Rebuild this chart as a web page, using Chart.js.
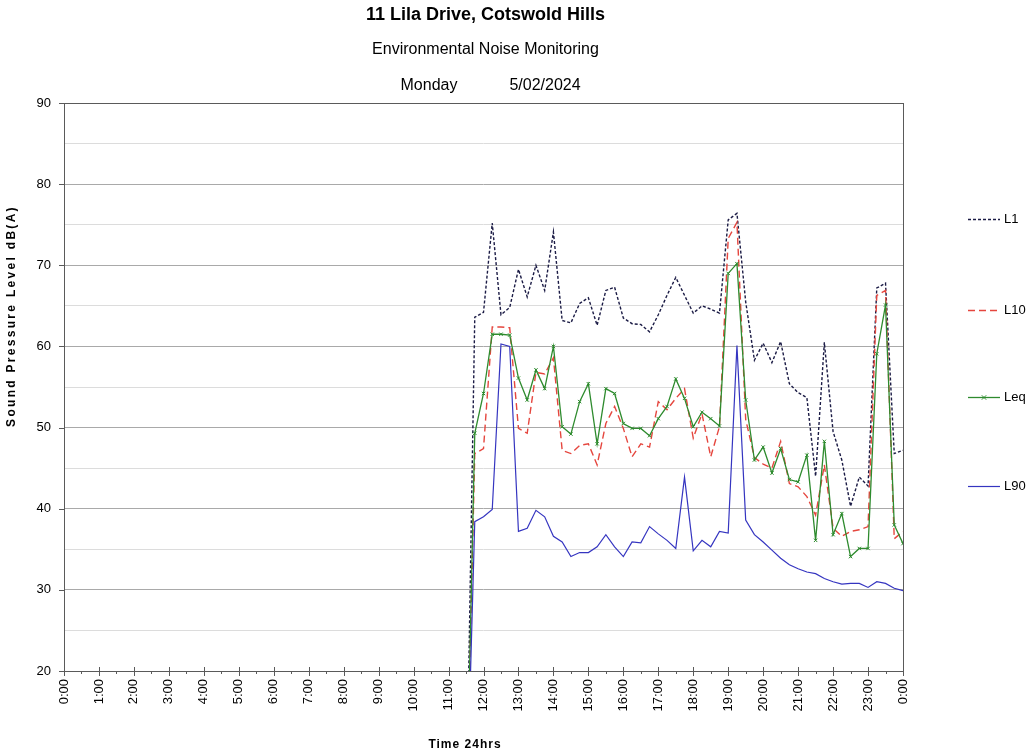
<!DOCTYPE html>
<html>
<head>
<meta charset="utf-8">
<title>11 Lila Drive, Cotswold Hills</title>
<script src="https://cdn.jsdelivr.net/npm/chart.js@4.4.1/dist/chart.umd.min.js"></script>
<style>
  html, body { margin: 0; padding: 0; background: #ffffff; }
  #wrap { width: 1029px; height: 754px; }
</style>
</head>
<body>
<div id="wrap"><canvas id="noise" width="1029" height="754"></canvas></div>
<script>
// 15-minute logger records (the 11:30 record precedes the start of monitoring)
const times = [
  '11:30', '11:45', '12:00', '12:15', '12:30', '12:45', '13:00', '13:15', '13:30', '13:45',
  '14:00', '14:15', '14:30', '14:45', '15:00', '15:15', '15:30', '15:45', '16:00', '16:15',
  '16:30', '16:45', '17:00', '17:15', '17:30', '17:45', '18:00', '18:15', '18:30', '18:45',
  '19:00', '19:15', '19:30', '19:45', '20:00', '20:15', '20:30', '20:45', '21:00', '21:15',
  '21:30', '21:45', '22:00', '22:15', '22:30', '22:45', '23:00', '23:15', '23:30', '23:45',
  '24:00'
];

const L1 = [
  0, 63.6, 64.2, 75.2, 63.9, 64.8, 69.5, 66.1, 70.0, 66.9,
  74.1, 63.2, 62.9, 65.3, 66.0, 62.6, 66.9, 67.3, 63.5, 62.8,
  62.7, 61.8, 63.9, 66.3, 68.5, 66.3, 64.1, 65.0, 64.6, 64.1,
  75.6, 76.4, 65.5, 58.3, 60.4, 58.0, 60.6, 55.4, 54.3, 53.7,
  44.0, 60.5, 49.5, 46.0, 40.3, 43.9, 42.8, 67.2, 67.8, 46.8,
  47.2
];

const L10 = [
  0, 46.8, 47.4, 62.4, 62.4, 62.3, 49.9, 49.3, 56.8, 56.6,
  58.6, 47.2, 46.8, 47.8, 48.0, 45.4, 50.5, 52.6, 49.9, 46.4,
  48.0, 47.6, 53.2, 52.2, 53.6, 54.8, 48.7, 51.7, 46.4, 50.1,
  73.3, 75.3, 51.0, 46.3, 45.5, 45.0, 48.3, 43.1, 42.7, 41.5,
  39.2, 45.4, 37.6, 36.6, 37.2, 37.4, 37.8, 66.3, 66.9, 36.3,
  37.2
];

const Leq = [
  0, 49.3, 54.2, 61.5, 61.5, 61.4, 56.1, 53.4, 57.1, 54.8,
  60.0, 50.1, 49.2, 53.2, 55.4, 48.0, 54.8, 54.2, 50.5, 49.9,
  49.9, 49.0, 51.1, 52.6, 56.0, 53.6, 50.1, 51.9, 51.1, 50.2,
  69.0, 70.2, 53.4, 46.0, 47.6, 44.4, 47.4, 43.6, 43.3, 46.6,
  36.1, 48.3, 36.8, 39.4, 34.1, 35.1, 35.1, 59.1, 65.1, 38.0,
  35.7
];

const L90 = [
  0, 38.4, 39.0, 39.9, 60.3, 60.0, 37.2, 37.6, 39.8, 39.0,
  36.6, 35.9, 34.1, 34.6, 34.6, 35.3, 36.8, 35.3, 34.1, 35.9,
  35.8, 37.8, 36.9, 36.1, 35.1, 43.9, 34.8, 36.1, 35.3, 37.2,
  37.0, 60.1, 38.6, 36.8, 35.9, 34.9, 33.9, 33.1, 32.6, 32.2,
  32.0, 31.4, 31.0, 30.7, 30.8, 30.8, 30.3, 31.0, 30.8, 30.2,
  29.9
];

// hour labels for the 24 h time axis
const hourLabels = [
  '0:00', '1:00', '2:00', '3:00', '4:00', '5:00', '6:00', '7:00', '8:00', '9:00',
  '10:00', '11:00', '12:00', '13:00', '14:00', '15:00', '16:00', '17:00', '18:00',
  '19:00', '20:00', '21:00', '22:00', '23:00', '0:00'
];

const yTicks = [20, 30, 40, 50, 60, 70, 80, 90];

const titleText = '11 Lila Drive, Cotswold Hills';
const subtitleText = 'Environmental Noise Monitoring';
const dayText = 'Monday';
const dateText = '5/02/2024';
const yTitle = 'Sound Pressure Level dB(A)';
const xTitle = 'Time 24hrs';

const FONT = "'Liberation Sans', Arial, Helvetica, sans-serif";

function toHours(t) {
  const [h, m] = t.split(':').map(Number);
  return h + m / 60;
}
function series(values) {
  return times.map((t, i) => ({ x: toHours(t), y: values[i] }));
}

// plot frame, axis tick marks, headings, axis titles and legend
const decorations = {
  id: 'decorations',
  beforeDatasetsDraw(chart) {
    const { ctx, chartArea: a, scales: { x, y } } = chart;
    ctx.save();
    ctx.strokeStyle = '#5a5a5a';
    ctx.lineWidth = 1;
    ctx.strokeRect(Math.round(a.left) + 0.5, Math.round(a.top) + 0.5,
                   Math.round(a.right - a.left), Math.round(a.bottom - a.top));
    ctx.beginPath();
    for (let h = 0; h <= 24; h += 0.5) {
      const px = Math.round(x.getPixelForValue(h)) + 0.5;
      const major = Number.isInteger(h);
      ctx.moveTo(px, a.bottom - (major ? 4 : 0));
      ctx.lineTo(px, a.bottom + (major ? 5 : 3));
    }
    yTicks.forEach(v => {
      const py = Math.round(y.getPixelForValue(v)) + 0.5;
      ctx.moveTo(a.left - 5, py);
      ctx.lineTo(a.left, py);
    });
    ctx.stroke();
    ctx.restore();
  },
  afterDraw(chart) {
    const { ctx, chartArea: a } = chart;
    const cx = (a.left + a.right) / 2;
    ctx.save();
    ctx.fillStyle = '#000000';
    ctx.textBaseline = 'middle';
    ctx.textAlign = 'center';
    ctx.font = `bold 18px ${FONT}`;
    ctx.fillText(titleText, cx + 2, 15);
    ctx.font = `16px ${FONT}`;
    ctx.fillText(subtitleText, cx + 2, 50);
    ctx.fillText(dayText, 429, 86);
    ctx.fillText(dateText, 545, 86);

    // axis titles
    ctx.font = `bold 12px ${FONT}`;
    ctx.letterSpacing = '1px';
    ctx.fillText(xTitle, 465, 745);
    ctx.save();
    ctx.translate(12, 316);
    ctx.rotate(-Math.PI / 2);
    ctx.letterSpacing = '2.3px';
    ctx.fillText(yTitle, 0, 0);
    ctx.restore();
    ctx.letterSpacing = '0px';

    // legend
    const rows = [219, 310, 397, 486];
    chart.data.datasets.forEach((ds, i) => {
      const ly = rows[i] + 0.5;
      ctx.save();
      ctx.strokeStyle = ds.borderColor;
      ctx.lineWidth = ds.borderWidth;
      ctx.setLineDash(ds.borderDash || []);
      ctx.beginPath();
      ctx.moveTo(968, ly);
      ctx.lineTo(1000, ly);
      ctx.stroke();
      ctx.setLineDash([]);
      if (ds.pointStyle === 'crossRot') {
        ctx.lineWidth = 1;
        const r = 2.2, mx = 984;
        ctx.beginPath();
        ctx.moveTo(mx - r, ly - r); ctx.lineTo(mx + r, ly + r);
        ctx.moveTo(mx - r, ly + r); ctx.lineTo(mx + r, ly - r);
        ctx.stroke();
      }
      ctx.restore();
      ctx.font = `13px ${FONT}`;
      ctx.textAlign = 'left';
      ctx.fillStyle = '#000000';
      ctx.fillText(ds.label, 1004, rows[i]);
    });
    ctx.restore();
  }
};

new Chart(document.getElementById('noise'), {
  type: 'line',
  data: {
    datasets: [
      {
        label: 'L1', data: series(L1), order: 4,
        borderColor: '#1b1b45', borderWidth: 1.4, borderDash: [3, 2],
        pointRadius: 0, tension: 0
      },
      {
        label: 'L10', data: series(L10), order: 3,
        borderColor: '#e5463e', borderWidth: 1.4, borderDash: [7, 4],
        pointRadius: 0, tension: 0
      },
      {
        label: 'Leq', data: series(Leq), order: 2,
        borderColor: '#2e8b2e', borderWidth: 1.3,
        pointStyle: 'crossRot', pointRadius: 2.4, pointBorderWidth: 1,
        pointBorderColor: '#2e8b2e', pointBackgroundColor: '#2e8b2e', tension: 0
      },
      {
        label: 'L90', data: series(L90), order: 1,
        borderColor: '#3535c0', borderWidth: 1.2,
        pointRadius: 0, tension: 0
      }
    ]
  },
  options: {
    responsive: false,
    animation: false,
    devicePixelRatio: 1,
    layout: { padding: { top: 103, right: 126, bottom: 0, left: 0 } },
    plugins: {
      legend: { display: false },
      title: { display: false },
      tooltip: { enabled: false }
    },
    scales: {
      x: {
        type: 'linear', min: 0, max: 24,
        afterFit: s => { s.height = 83; },
        border: { display: false },
        grid: { drawOnChartArea: false, drawTicks: false },
        ticks: {
          stepSize: 1, autoSkip: false, maxRotation: 90, minRotation: 90,
          padding: 8, color: '#000000',
          font: { family: FONT, size: 13 },
          callback: v => hourLabels[v]
        }
      },
      y: {
        min: 20, max: 90,
        afterFit: s => { s.width = 64; },
        border: { display: false },
        grid: {
          drawTicks: false,
          color: c => (c.tick.value % 10 === 0 ? '#a9a9a9' : '#dcdcdc'),
          lineWidth: 1
        },
        ticks: {
          stepSize: 5, padding: 13, color: '#000000',
          font: { family: FONT, size: 13 },
          callback: v => (v % 10 === 0 ? String(v) : '')
        }
      }
    }
  },
  plugins: [decorations]
});
</script>
</body>
</html>
